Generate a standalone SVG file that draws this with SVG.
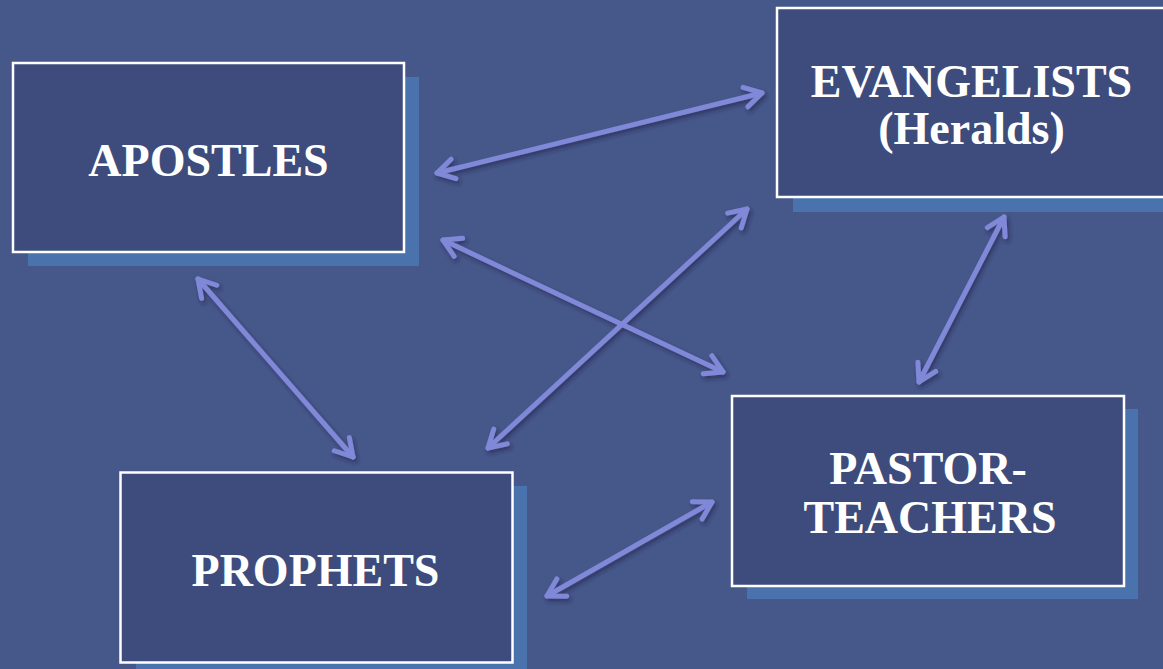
<svg xmlns="http://www.w3.org/2000/svg" width="1163" height="669" viewBox="0 0 1163 669">
<defs>
<style>
.shadow{fill:#4a72ad}
.box{fill:#3d4c7c;stroke:#ffffff;stroke-width:2.5}
.lbl{font-family:"Liberation Serif","Times New Roman",serif;font-weight:bold;font-size:46px;fill:#ffffff;text-anchor:middle}
.conn{stroke:#8088d8;stroke-width:5;fill:none;stroke-linecap:round;marker-start:url(#head);marker-end:url(#head)}
</style>
<marker id="head" markerUnits="userSpaceOnUse" viewBox="-22 -14 26 28" refX="0" refY="0" markerWidth="26" markerHeight="28" orient="auto-start-reverse" overflow="visible">
<path d="M -17,-10 L 0,0 L -17,10" fill="none" stroke="#8088d8" stroke-width="5" stroke-linecap="round" stroke-linejoin="round"/>
</marker>
<filter id="ds" x="-20%" y="-20%" width="140%" height="140%">
<feDropShadow dx="2" dy="3" stdDeviation="2" flood-color="#1a2244" flood-opacity="0.55"/>
</filter>
</defs>
<rect width="1163" height="669" fill="#46578a"/>
<g id="apostles">
<rect class="shadow" x="28" y="77" width="391" height="189"/>
<rect class="box" x="13" y="63" width="391" height="189"/>
<text class="lbl" x="208.5" y="176">APOSTLES</text>
</g>
<g id="evangelists">
<rect class="shadow" x="793" y="24" width="390" height="188"/>
<rect class="box" x="777" y="8" width="400" height="189"/>
<text class="lbl" x="971.5" y="97">EVANGELISTS</text>
<text class="lbl" x="971.5" y="144">(Heralds)</text>
</g>
<g id="pastor-teachers">
<rect class="shadow" x="747" y="409" width="391" height="190"/>
<rect class="box" x="732" y="396" width="392" height="190"/>
<text class="lbl" x="928" y="484">PASTOR-</text>
<text class="lbl" x="930" y="533">TEACHERS</text>
</g>
<g id="prophets">
<rect class="shadow" x="136" y="486" width="391" height="200"/>
<rect class="box" x="120.5" y="472.5" width="392" height="190"/>
<text class="lbl" x="315.5" y="586">PROPHETS</text>
</g>
<g id="connectors" filter="url(#ds)">
<line class="conn" x1="437" y1="173" x2="762" y2="93"/>
<line class="conn" x1="443" y1="240" x2="723" y2="372"/>
<line class="conn" x1="488" y1="448" x2="747" y2="209"/>
<line class="conn" x1="198" y1="279" x2="353" y2="457"/>
<line class="conn" x1="1004" y1="217" x2="919" y2="382"/>
<line class="conn" x1="712" y1="502" x2="547" y2="596"/>
</g>
</svg>
